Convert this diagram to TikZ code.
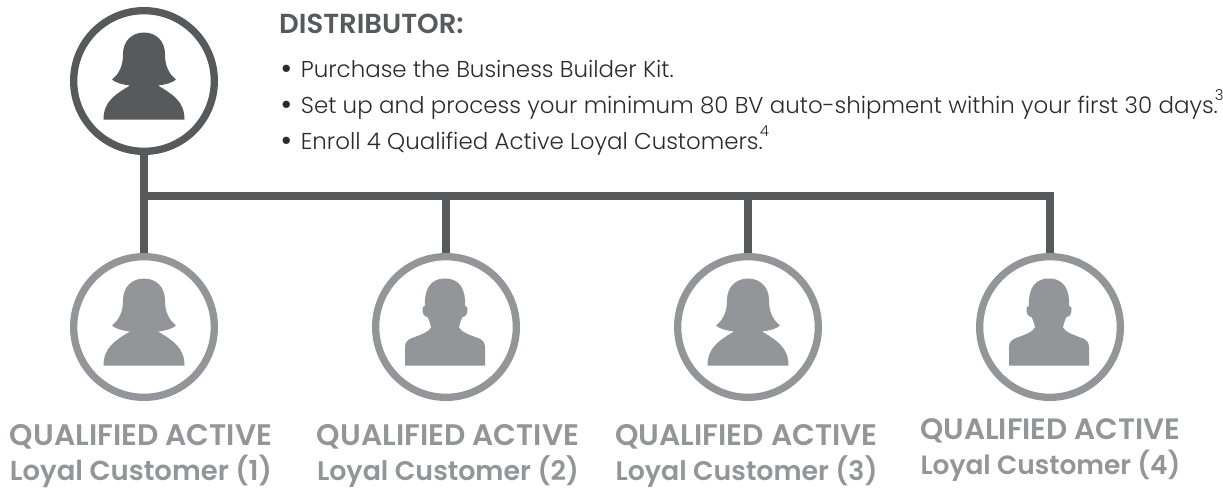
\documentclass[tikz,border=0pt]{standalone}
\usepackage{graphicx}
\usepackage{fontspec}
\setmainfont{Poppins}
\newfontfamily\lightf{Poppins Light}
\newfontfamily\semif{Poppins SemiBold}
\definecolor{darkg}{HTML}{58595B}
\definecolor{lightg}{HTML}{939598}
\definecolor{textg}{HTML}{2B2A2C}
\tikzset{
  ring/.style={circle,draw=#1,line width=7.3pt,fill=white,minimum size=140.7pt,inner sep=0pt},
  link/.style={draw=darkg,line width=8pt},
  body/.style={anchor=base west,inner sep=0pt,text=textg,font=\lightf\fontsize{22.95}{22.95}\selectfont},
  head/.style={anchor=base west,inner sep=0pt,text=darkg,font=\semif\fontsize{27.5}{27.5}\selectfont},
  capta/.style={anchor=base,inner sep=0pt,text=lightg,font=\semif\fontsize{30}{30}\selectfont},
  captb/.style={anchor=base,inner sep=0pt,text=lightg,font=\semif\fontsize{28}{28}\selectfont},
  pics/woman/.style={code={
    \fill[#1] (-40.5,38.5) .. controls (-40.5,20) and (-28,13) .. (-14,4.5)
      .. controls (-22,3.5) and (-28,2) .. (-32,-1.5)
      .. controls (-24,-8) and (-21,-16) .. (-21,-27)
      .. controls (-21,-40) and (-12,-48.5) .. (0,-48.5)
      .. controls (12,-48.5) and (21,-40) .. (21,-27)
      .. controls (21,-16) and (24,-8) .. (32,-1.5)
      .. controls (28,2) and (22,3.5) .. (14,4.5)
      .. controls (28,13) and (40.5,20) .. (40.5,38.5) -- cycle;}},
  pics/man/.style={code={
    \fill[#1] (-40,38.5) -- (-40,20) .. controls (-40,15) and (-37,12.5) .. (-33,11)
      .. controls (-25,8) and (-16,5) .. (-14,0.5)
      .. controls (-14.5,-3) and (-16,-7) .. (-17.5,-10)
      .. controls (-21,-10) and (-23,-14) .. (-22.5,-19)
      .. controls (-22,-20) and (-21,-21) .. (-20,-21)
      .. controls (-21,-37) and (-15,-48.5) .. (0,-48.5)
      .. controls (15,-48.5) and (21,-37) .. (20,-21)
      .. controls (21,-21) and (22,-20) .. (22.5,-19)
      .. controls (23,-14) and (21,-10) .. (17.5,-10)
      .. controls (16,-7) and (14.5,-3) .. (14,0.5)
      .. controls (16,5) and (25,8) .. (33,11)
      .. controls (37,12.5) and (40,15) .. (40,20) -- (40,38.5) -- cycle;}}
}
\newcommand{\supnum}[1]{\raisebox{12.7pt}[0pt][0pt]{\kern-3pt\fontsize{15}{15}\selectfont #1}}
\newcommand{\bul}{\makebox[20.7pt][l]{\semif\fontsize{26}{26}\selectfont\raisebox{-0.8pt}{•}}}
\newcommand{\capfit}[2][262pt]{\resizebox{#1}{!}{#2}}
\begin{document}
\begin{tikzpicture}[x=1pt,y=-1pt]
\useasboundingbox (0,0) rectangle (1223,490);
\coordinate (busL) at (144,196);
\node[ring=darkg] (top) at (144,81) {};
\node[ring=lightg] (c1) at (144,327) {};
\node[ring=lightg] (c2) at (446,327) {};
\node[ring=lightg] (c3) at (748,327) {};
\node[ring=lightg] (c4) at (1050,327) {};
\pic at (top.center) {woman=darkg};
\pic at (c1.center) {woman=lightg};
\pic at ([xshift=-1pt]c2.center) {man=lightg};
\pic at (c3.center) {woman=lightg};
\pic at ([xshift=-1pt]c4.center) {man=lightg};
\draw[link] (top.south) -- (c1.north);
\draw[link] (busL) -| (c4.north);
\draw[link] (c2.north) -- (c2.north |- busL);
\draw[link] (c3.north) -- (c3.north |- busL);
\node[head] (hd) at (279,33) {DISTRIBUTOR:};
\node[body] (l1) at (280,77) {\bul Purchase the Business Builder Kit.};
\node[body] (l2) at (280,113) {\bul Set up and process your minimum 80 BV auto-shipment within your first 30 days.\supnum{3}};
\node[body] (l3) at (280,149) {\bul Enroll 4 Qualified Active Loyal Customers.\supnum{4}};
\node[capta] (q1) at (141,445.7) {\capfit{QUALIFIED ACTIVE}};
\node[captb] (r1) at (141,480.7) {\capfit{Loyal Customer (1)}};
\node[capta] (q2) at (448,445.7) {\capfit{QUALIFIED ACTIVE}};
\node[captb] (r2) at (448,480.7) {\capfit{Loyal Customer (2)}};
\node[capta] (q3) at (746.5,445.7) {\capfit{QUALIFIED ACTIVE}};
\node[captb] (r3) at (746.5,480.7) {\capfit{Loyal Customer (3)}};
\node[capta] (q4) at (1050.5,439) {\capfit[260pt]{QUALIFIED ACTIVE}};
\node[captb] (r4) at (1050.5,474) {\capfit[260pt]{Loyal Customer (4)}};
\end{tikzpicture}
\end{document}
